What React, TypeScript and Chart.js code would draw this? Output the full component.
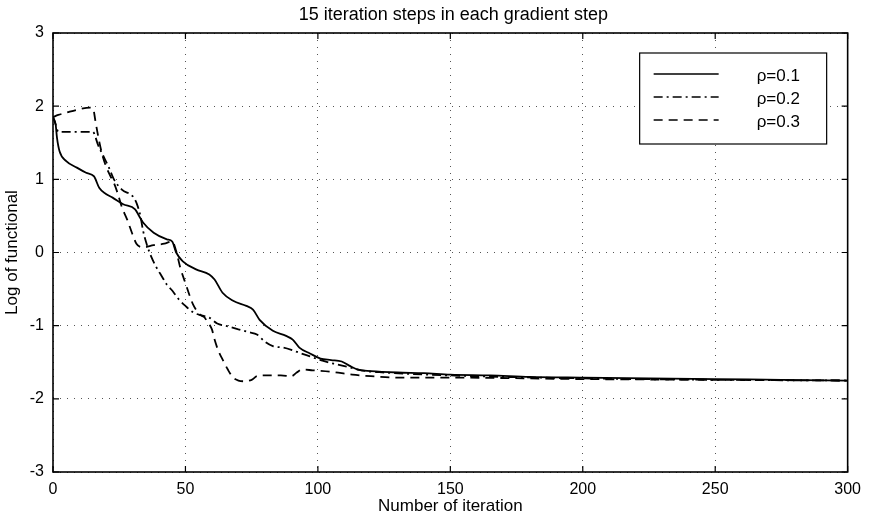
import React, { useEffect, useRef } from "react";
import { Chart, registerables } from "chart.js";

Chart.register(...registerables);

const TITLE = "15 iteration steps in each gradient step";
const X_LABEL = "Number of iteration";
const Y_LABEL = "Log of functional";
const SERIES_NAMES = ["ρ=0.1", "ρ=0.2", "ρ=0.3"];
const X_TICKS = [0, 50, 100, 150, 200, 250, 300];
const Y_TICKS = [-3, -2, -1, 0, 1, 2, 3];

// rho = 0.1 (solid)
const rho01X = [0, 1, 1.5, 2.5, 5, 9, 12.5, 15.5, 17.5, 20, 22.5, 26.5, 31, 32.5, 34, 38, 43, 45, 46.5, 49, 54, 59, 61, 64, 68, 73, 75.5, 78, 83, 88, 90.5, 93, 97, 101, 105, 109, 112, 115, 120, 130, 140, 150, 165, 180, 200, 225, 250, 275, 300];
const rho01Y = [1.85, 1.75, 1.57, 1.38, 1.25, 1.16, 1.09, 1.04, 0.88, 0.8, 0.75, 0.66, 0.59, 0.5, 0.41, 0.27, 0.18, 0.15, 0.0, -0.12, -0.23, -0.3, -0.37, -0.55, -0.66, -0.73, -0.78, -0.92, -1.07, -1.14, -1.19, -1.3, -1.38, -1.45, -1.47, -1.49, -1.55, -1.6, -1.62, -1.64, -1.65, -1.67, -1.68, -1.7, -1.71, -1.72, -1.73, -1.74, -1.75];

// rho = 0.2 (dash-dot)
const rho02X = [0, 1, 2, 5, 10, 15, 15.5, 17, 19, 21, 23, 26, 30.5, 32, 33, 34, 35.5, 37, 39, 41, 43, 45, 47.5, 50, 53, 56, 59, 62, 66, 70, 74, 77, 80, 83, 87, 90, 93, 97, 101, 106, 112, 118, 125, 135, 150, 170, 200, 250, 300];
const rho02Y = [1.85, 1.75, 1.65, 1.65, 1.65, 1.65, 1.63, 1.47, 1.32, 1.17, 1.0, 0.86, 0.75, 0.63, 0.5, 0.3, 0.1, -0.05, -0.2, -0.32, -0.44, -0.52, -0.64, -0.73, -0.82, -0.86, -0.89, -0.97, -1.01, -1.05, -1.09, -1.12, -1.22, -1.28, -1.3, -1.33, -1.37, -1.42, -1.47, -1.52, -1.57, -1.62, -1.64, -1.66, -1.68, -1.7, -1.72, -1.74, -1.75];

// rho = 0.3 (dashed)
const rho03X = [0, 2, 5, 9, 14, 15.2, 16, 17, 18.5, 20, 22, 23, 24.5, 26, 28, 30, 31.5, 34, 38, 42, 45, 46.5, 48, 50, 51.5, 53, 55.5, 57, 58.5, 60, 61, 62.5, 64, 66, 68, 70, 72, 75, 77, 80, 86, 90, 92, 94, 98, 105, 113, 120, 131, 150, 200, 250, 300];
const rho03Y = [1.85, 1.88, 1.91, 1.95, 1.98, 1.96, 1.8, 1.6, 1.35, 1.18, 1.02, 0.95, 0.8, 0.62, 0.45, 0.25, 0.12, 0.07, 0.1, 0.12, 0.15, 0.02, -0.2, -0.42, -0.58, -0.72, -0.85, -0.88, -0.96, -1.05, -1.19, -1.35, -1.46, -1.6, -1.71, -1.75, -1.76, -1.74, -1.69, -1.68, -1.68, -1.69, -1.64, -1.6, -1.61, -1.63, -1.67, -1.69, -1.71, -1.71, -1.73, -1.74, -1.75];

const SERIES_X = [rho01X, rho02X, rho03X];
const SERIES_Y = [rho01Y, rho02Y, rho03Y];
const SERIES_DASH: number[][] = [[], [9, 4, 2, 4], [9, 6]];

const FONT = "'Liberation Sans', Arial, Helvetica, sans-serif";

const framePlugin = {
  id: "matlabFrame",
  afterDatasetsDraw(chart: any) {
    const { ctx, chartArea: a, scales } = chart;
    const xs = scales.x;
    const ys = scales.y;
    ctx.save();
    ctx.strokeStyle = "#000";
    ctx.lineWidth = 1.2;
    ctx.setLineDash([]);
    // inward ticks
    ctx.beginPath();
    X_TICKS.forEach((v) => {
      const px = xs.getPixelForValue(v);
      ctx.moveTo(px, a.bottom);
      ctx.lineTo(px, a.bottom - 6);
      ctx.moveTo(px, a.top);
      ctx.lineTo(px, a.top + 6);
    });
    Y_TICKS.forEach((v) => {
      const py = ys.getPixelForValue(v);
      ctx.moveTo(a.left, py);
      ctx.lineTo(a.left + 6, py);
      ctx.moveTo(a.right, py);
      ctx.lineTo(a.right - 6, py);
    });
    ctx.stroke();
    // frame
    ctx.lineWidth = 1.6;
    ctx.strokeRect(a.left, a.top, a.right - a.left, a.bottom - a.top);

    // title
    ctx.fillStyle = "#000";
    ctx.font = `18px ${FONT}`;
    ctx.textAlign = "center";
    ctx.textBaseline = "middle";
    ctx.fillText(TITLE, (a.left + a.right) / 2 + 3, 15);

    // legend box
    const bw = 187;
    const bh = 91;
    const bx = a.right - 21 - bw;
    const by = a.top + 20;
    ctx.fillStyle = "#fff";
    ctx.fillRect(bx, by, bw, bh);
    ctx.lineWidth = 1.2;
    ctx.strokeStyle = "#000";
    ctx.strokeRect(bx, by, bw, bh);
    SERIES_NAMES.forEach((name, i) => {
      const ry = by + 22 + i * 23;
      ctx.beginPath();
      ctx.setLineDash(SERIES_DASH[i]);
      ctx.lineWidth = 1.6;
      ctx.moveTo(bx + 14, ry - 1);
      ctx.lineTo(bx + 79, ry - 1);
      ctx.stroke();
      ctx.setLineDash([]);
      ctx.fillStyle = "#000";
      ctx.font = `17px ${FONT}`;
      ctx.textAlign = "left";
      ctx.textBaseline = "middle";
      ctx.fillText(name, bx + 117, ry + 1);
    });
    ctx.restore();
  },
};

export default function App() {
  const ref = useRef<HTMLCanvasElement | null>(null);

  useEffect(() => {
    if (!ref.current) return;
    const datasets = SERIES_NAMES.map((name, i) => ({
      label: name,
      data: SERIES_X[i].map((x, j) => ({ x, y: SERIES_Y[i][j] })),
      borderColor: "#000",
      backgroundColor: "#000",
      borderWidth: 1.8,
      borderDash: SERIES_DASH[i],
      pointRadius: 0,
      fill: false,
      cubicInterpolationMode: "monotone" as const,
    }));

    const chart = new Chart(ref.current, {
      type: "line",
      data: { datasets },
      options: {
        animation: false,
        responsive: true,
        maintainAspectRatio: false,
        layout: { padding: { top: 33, right: 20, left: 0, bottom: 0 } },
        plugins: {
          legend: { display: false },
          title: { display: false },
          tooltip: { enabled: false },
        },
        scales: {
          x: {
            type: "linear",
            min: 0,
            max: 300,
            afterBuildTicks: (s: any) => {
              s.ticks = X_TICKS.map((v) => ({ value: v }));
            },
            afterFit: (s: any) => {
              s.height = 51;
            },
            grid: { color: "#555", lineWidth: 1, drawTicks: false },
            border: { display: false, dash: [1, 6] },
            ticks: {
              color: "#000",
              padding: 8,
              maxRotation: 0,
              font: { family: FONT, size: 16 },
            },
            title: {
              display: true,
              text: X_LABEL,
              color: "#000",
              font: { family: FONT, size: 17 },
              padding: { top: 0, bottom: 6 },
            },
          },
          y: {
            type: "linear",
            min: -3,
            max: 3,
            afterBuildTicks: (s: any) => {
              s.ticks = Y_TICKS.map((v) => ({ value: v }));
            },
            afterFit: (s: any) => {
              s.width = 53;
            },
            grid: { color: "#555", lineWidth: 1, drawTicks: false },
            border: { display: false, dash: [1, 6] },
            ticks: {
              color: "#000",
              padding: 9,
              font: { family: FONT, size: 16 },
            },
            title: {
              display: true,
              text: Y_LABEL,
              color: "#000",
              font: { family: FONT, size: 17 },
              padding: { top: 2, bottom: 0 },
            },
          },
        },
      },
      plugins: [framePlugin],
    });
    return () => chart.destroy();
  }, []);

  return (
    <div
      style={{
        position: "fixed",
        left: 0,
        top: 0,
        width: 869,
        height: 523,
        background: "#fff",
      }}
    >
      <canvas ref={ref} />
    </div>
  );
}
